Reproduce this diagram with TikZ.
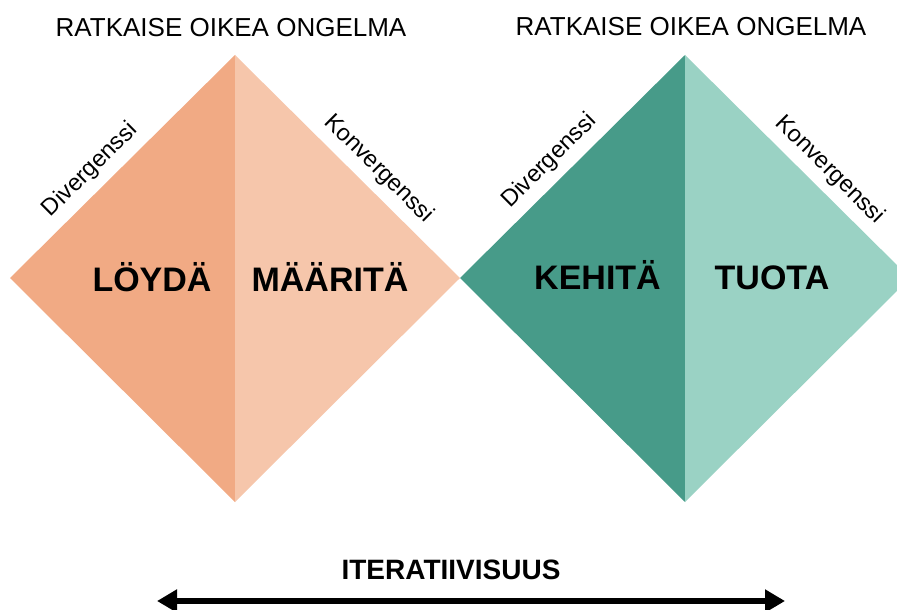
\documentclass[tikz,border=0pt]{standalone}
\usepackage{fontspec}
\setmainfont{Liberation Sans}
\usetikzlibrary{arrows.meta}
\definecolor{lohi}{HTML}{F1AA84}
\definecolor{lohivaalea}{HTML}{F6C6AB}
\definecolor{turkoosi}{HTML}{479B89}
\definecolor{turkoosivaalea}{HTML}{9AD2C4}
\begin{document}
\begin{tikzpicture}[x=1pt, y=-1pt,
	otsikko/.style={font=\fontsize{26}{30}\selectfont, anchor=base},
	vaihe/.style={font=\fontsize{34}{40}\selectfont\bfseries, anchor=base},
	reuna/.style={font=\fontsize{23.5}{27}\selectfont, sloped, above=9pt, inner sep=0pt}]
	\useasboundingbox (0, 0) rectangle (897, 610);
	\clip (0, 0) rectangle (897, 610);
\coordinate (v1) at (10, 278);
\coordinate (y1) at (235, 55);
\coordinate (o1) at (460, 278);
\coordinate (a1) at (235, 502);
\coordinate (v2) at (460, 278);
\coordinate (y2) at (685, 55);
\coordinate (o2) at (910, 278);
\coordinate (a2) at (685, 502);
\fill[lohi] (v1) -- (y1) -- (a1) -- cycle;
\fill[lohivaalea] (y1) -- (o1) -- (a1) -- cycle;
\fill[turkoosi] (v2) -- (y2) -- (a2) -- cycle;
\fill[turkoosivaalea] (y2) -- (o2) -- (a2) -- cycle;
\node[otsikko] (ongelma1) at (231, 37) {RATKAISE OIKEA ONGELMA};
\node[otsikko] (ongelma2) at (691, 36) {RATKAISE OIKEA ONGELMA};
\path (v1) -- (y1) node[reuna, pos=0.42] (div1) {Divergenssi};
\path (y1) -- (o1) node[reuna, pos=0.575] (konv1) {Konvergenssi};
\path (v2) -- (y2) node[reuna, pos=0.46] (div2) {Divergenssi};
\path (y2) -- (o2) node[reuna, pos=0.58] (konv2) {Konvergenssi};
\node[vaihe] (loyda) at (152, 291) {LÖYDÄ};
\node[vaihe] (maarita) at (330, 291) {MÄÄRITÄ};
\node[vaihe] (kehita) at (597.5, 289) {KEHITÄ};
\node[vaihe] (tuota) at (772, 289) {TUOTA};
\node[font=\fontsize{28}{32}\selectfont\bfseries, anchor=base] (iteratiivisuus) at (451, 579) {ITERATIIVISUUS};
\coordinate (alku) at (157, 601);
\coordinate (loppu) at (785, 601);
\draw[{Triangle[length=20pt, width=22pt]}-{Triangle[length=20pt, width=22pt]}, line width=6.5pt] (alku) -- (loppu);
\end{tikzpicture}
\end{document}
